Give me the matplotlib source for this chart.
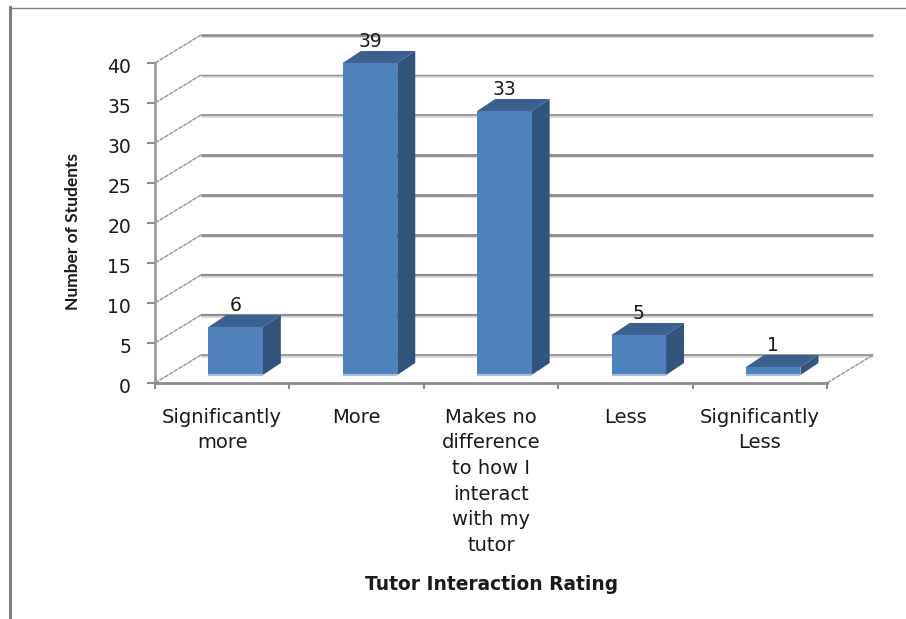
"""Tutor interaction rating, drawn as a fake 3D column chart."""

import matplotlib

matplotlib.use("Agg")
import matplotlib.pyplot as plt
from matplotlib.patches import Polygon
from matplotlib.transforms import ScaledTranslation

categories = [
    "Significantly\nmore",
    "More",
    "Makes no\ndifference\nto how I\ninteract\nwith my\ntutor",
    "Less",
    "Significantly\nLess",
]
students = [6, 39, 33, 5, 1]
y_ticks = [0, 5, 10, 15, 20, 25, 30, 35, 40]
grid_widths = [1.2, 1.6, 1.6, 2.0, 2.0, 2.0, 1.2, 1.0, 1.8]

WIDTH, HEIGHT = 906, 619
# front plane of the chart box, in pixels
LEFT, RIGHT, BOTTOM, TOP = 155, 827, 383, 63
# depth of the box and of the bars, in data units
DEPTH_X, DEPTH_Y = 46 / 134.4, 3.5
BAR_DX, BAR_DY = 18 / 134.4, 1.5
BASE_DX, BASE_DY = 0.10, 1.0
BAR_W = 0.405

FRONT = "#4f81bd"
SIDE = "#31547c"
ROOF = "#3a6190"
BASE = "#a9c0dc"
GRID = "#8c8c8c"
SHADOW = "#dadada"
TEXT = "#1a1a1a"

plt.rcParams["font.family"] = ["DejaVu Sans"]

fig = plt.figure(figsize=(WIDTH / 100, HEIGHT / 100), dpi=100, facecolor="white")
ax = fig.add_axes(
    [LEFT / WIDTH, 1 - BOTTOM / HEIGHT, (RIGHT - LEFT) / WIDTH, (BOTTOM - TOP) / HEIGHT]
)
ax.set_xlim(0, len(categories))
ax.set_ylim(0, y_ticks[-1])
ax.patch.set_visible(False)
for side in ("top", "right"):
    ax.spines[side].set_visible(False)
ax.spines["left"].set_color("#9c9c9c")
ax.spines["bottom"].set_color(GRID)
for side in ("left", "bottom"):
    ax.spines[side].set_linewidth(2)

n = len(categories)
for tick, lw in zip(y_ticks, grid_widths):
    # back wall line with its soft shadow, plus the slanted piece on the side wall
    ax.plot([DEPTH_X, n + DEPTH_X], [tick + DEPTH_Y - 0.15] * 2, color=SHADOW, lw=2,
            clip_on=False, solid_capstyle="butt", zorder=1)
    ax.plot([DEPTH_X, n + DEPTH_X], [tick + DEPTH_Y] * 2, color=GRID, lw=lw,
            clip_on=False, solid_capstyle="butt", zorder=1)
    ax.plot([0, DEPTH_X], [tick, tick + DEPTH_Y], color="#9a9a9a", lw=1.1,
            ls=(0, (3, 0.6)), clip_on=False, zorder=1)
ax.plot([n, n + DEPTH_X], [0, DEPTH_Y], color="#9a9a9a", lw=1.1,
        ls=(0, (3, 0.6)), clip_on=False, zorder=1)

for i, value in enumerate(students):
    x0 = i + 0.5 + BASE_DX - BAR_W / 2
    x1 = x0 + BAR_W
    y0 = BASE_DY
    y1 = BASE_DY + value
    ax.add_patch(Polygon(
        [(x1, y0), (x1 + BAR_DX, y0 + BAR_DY), (x1 + BAR_DX, y1 + BAR_DY), (x1, y1)],
        facecolor=SIDE, edgecolor="none", clip_on=False, zorder=3))
    ax.add_patch(Polygon(
        [(x0, y1), (x0 + BAR_DX, y1 + BAR_DY), (x1 + BAR_DX, y1 + BAR_DY), (x1, y1)],
        facecolor=ROOF, edgecolor="none", clip_on=False, zorder=3))
    ax.bar(i + 0.5 + BASE_DX, value, BAR_W, bottom=BASE_DY, color=FRONT, zorder=4,
           clip_on=False)
    ax.plot([x0, x1], [y0, y0], color=BASE, lw=1.5, solid_capstyle="butt", zorder=5,
            clip_on=False)
    ax.text(i + 0.5 + BASE_DX, y1 + BAR_DY + 1.2, str(value), ha="center",
            va="center", fontsize=13.5, color=TEXT, zorder=6)

ax.set_yticks(y_ticks)
ax.set_xticks(range(n + 1))
ax.set_xticklabels([])
ax.tick_params(axis="y", length=5.8, width=1.5, color=GRID, labelsize=13.5, pad=11.5,
               labelcolor=TEXT)
ax.tick_params(axis="x", length=4, width=1.5, color=GRID)
# tick labels sit a little under their ticks in the original
nudge = ScaledTranslation(0, -2.5 / 100, fig.dpi_scale_trans)
for label in ax.get_yticklabels():
    label.set_transform(label.get_transform() + nudge)

for i, label in enumerate(categories):
    ax.text(i + 0.5, -3.1, label, ha="center", va="top", fontsize=14, color=TEXT,
            linespacing=1.44)

fig.text(492 / WIDTH, 1 - 584 / HEIGHT, "Tutor Interaction Rating", ha="center",
         va="center", fontsize=13.4, fontweight="bold", color=TEXT)
fig.text(73 / WIDTH, 1 - 231 / HEIGHT, "Number of Students", rotation=90, ha="center",
         va="center", fontsize=12.5, fontweight="bold", family="Lato", color=TEXT)

# outer frame: only the top and left edges show in the picture
fig.add_artist(plt.Line2D([9.5 / WIDTH, 1], [1 - 7.5 / HEIGHT] * 2, color="#808080", lw=1))
fig.add_artist(plt.Line2D([9.5 / WIDTH] * 2, [1 - 7 / HEIGHT, 0],
                          color="#808080", lw=2.2))

fig.savefig("out.png", dpi=100, facecolor="white")
